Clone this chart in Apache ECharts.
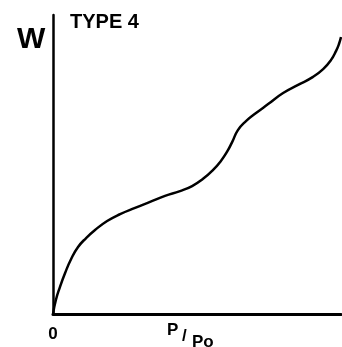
<!DOCTYPE html>
<html>
<head>
<meta charset="utf-8">
<script src="https://cdn.jsdelivr.net/npm/echarts@6/dist/echarts.min.js"></script>
<style>html,body{margin:0;padding:0;background:#fff;}#c{width:342px;height:347px;}</style>
</head>
<body>
<div id="c"></div>
<script>
var xValues = [0, 0.010, 0.024, 0.042, 0.063, 0.087, 0.115, 0.146, 0.188, 0.233, 0.285, 0.337, 0.389, 0.441, 0.483, 0.521, 0.556, 0.583, 0.604, 0.622, 0.642, 0.670, 0.705, 0.747, 0.799, 0.851, 0.903, 0.938, 0.965, 0.983, 0.993, 1.0];
var wValues = [0, 0.047, 0.090, 0.137, 0.184, 0.224, 0.254, 0.281, 0.311, 0.334, 0.355, 0.375, 0.395, 0.411, 0.428, 0.452, 0.482, 0.512, 0.542, 0.575, 0.615, 0.645, 0.672, 0.702, 0.739, 0.766, 0.793, 0.819, 0.849, 0.880, 0.903, 0.926];
var xTickLabels = ['0', '1'];
var title = 'TYPE 4';
var yName = 'W';
var xNameParts = ['P', '/', 'Po'];

var chart = echarts.init(document.getElementById('c'));
var pts = xValues.map(function (x, i) { return [x, wValues[i]]; });
var lbl = function (t, l, tp, size) {
  return { type: 'text', left: l, top: tp, style: { text: t, fill: '#000', font: 'bold ' + size + 'px "Liberation Sans"' } };
};
chart.setOption({
  animation: false,
  grid: { left: 53, right: 1, top: 15, bottom: 33, outerBoundsMode: 'none', containLabel: false },
  xAxis: {
    type: 'value', min: 0, max: 1, interval: 1,
    axisLine: { show: true, lineStyle: { color: '#000', width: 3 } },
    axisTick: { show: false },
    splitLine: { show: false },
    axisLabel: {
      color: '#000', fontFamily: 'Liberation Sans', fontWeight: 'bold', fontSize: 17, margin: 12,
      alignMaxLabel: 'left', hideOverlap: false,
      formatter: function (v) { return v === 0 ? xTickLabels[0] : xTickLabels[1]; }
    }
  },
  yAxis: {
    type: 'value', min: 0, max: 1,
    axisLine: { show: true, lineStyle: { color: '#000', width: 2.5 } },
    axisTick: { show: false },
    splitLine: { show: false },
    axisLabel: { show: false }
  },
  graphic: [
    lbl(yName, 17, 25, 30),
    lbl(title, 70, 12, 20),
    lbl(xNameParts[0], 167, 322, 17),
    lbl(xNameParts[1], 182, 328, 17),
    lbl(xNameParts[2], 192, 334, 17)
  ],
  series: [{
    type: 'line', data: pts, smooth: 0.5, showSymbol: false,
    lineStyle: { color: '#000', width: 2.5 }
  }]
});
</script>
</body>
</html>
